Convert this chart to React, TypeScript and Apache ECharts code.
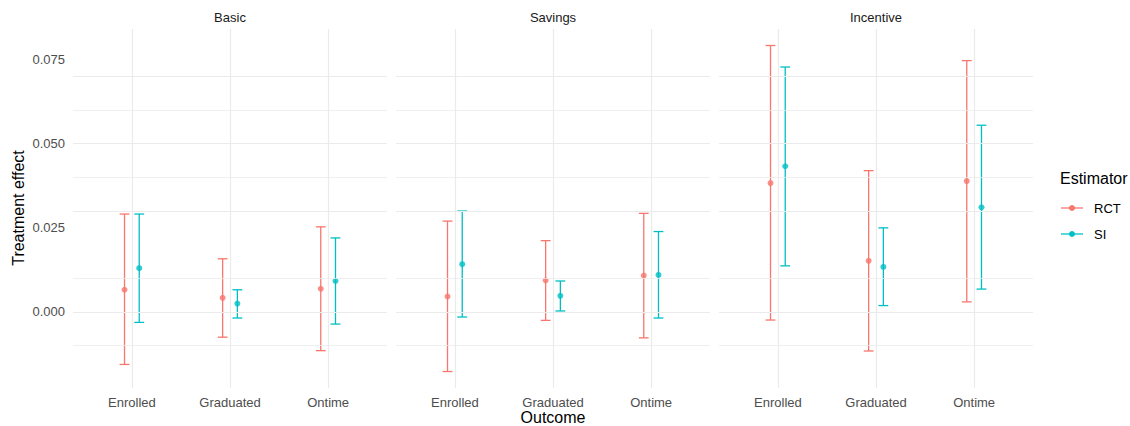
import React, { useEffect, useRef } from "react";
import * as echarts from "echarts";

// Facets, outcomes and estimates (treatment effect with 95% interval)
const panels = ["Basic", "Savings", "Incentive"];
const outcomes = ["Enrolled", "Graduated", "Ontime"];
const estimators = ["RCT", "SI"];

const rctEstimate = [
  [0.0066, 0.0042, 0.0069],
  [0.0046, 0.0094, 0.0108],
  [0.0383, 0.0152, 0.0389],
];
const rctLower = [
  [-0.0156, -0.0075, -0.0115],
  [-0.0177, -0.0025, -0.0077],
  [-0.0024, -0.0116, 0.003],
];
const rctUpper = [
  [0.0291, 0.0158, 0.0253],
  [0.027, 0.0212, 0.0293],
  [0.0792, 0.042, 0.0747],
];
const siEstimate = [
  [0.013, 0.0025, 0.0092],
  [0.0142, 0.0048, 0.011],
  [0.0433, 0.0134, 0.0311],
];
const siLower = [
  [-0.0031, -0.0018, -0.0036],
  [-0.0015, 0.0003, -0.0018],
  [0.0137, 0.0019, 0.0068],
];
const siUpper = [
  [0.0291, 0.0066, 0.022],
  [0.03, 0.0092, 0.0239],
  [0.0728, 0.025, 0.0555],
];

const yTicks = [0, 0.025, 0.05, 0.075];
const yMinorTicks = [-0.0125, 0.0125, 0.0375, 0.0625];

const COLORS = ["#F8766D", "#00BFC4"];
const FONT = "'Liberation Sans', Arial, sans-serif";
const GRID_COLOR = "#EBEBEB";
const DODGE = 0.075;
const CAP = 0.05;

const gridLeft = [73, 396, 719];
const gridWidth = 314;
const gridTop = 29;
const gridHeight = 359;
const Y_MIN = -0.0226;
const Y_MAX = 0.0841;

export default function App() {
  const ref = useRef<HTMLDivElement>(null);

  useEffect(() => {
    document.body.style.margin = "0";
    if (!ref.current) return;
    const chart = echarts.init(ref.current, null, { renderer: "svg" });

    const grids = panels.map((_, i) => ({
      left: gridLeft[i],
      top: gridTop,
      width: gridWidth,
      height: gridHeight,
      containLabel: false,
    }));

    const xAxes = panels.map((_, i) => ({
      type: "value",
      gridIndex: i,
      min: 0.4,
      max: 3.6,
      axisLine: { show: false },
      axisTick: { show: false, customValues: [1, 2, 3] },
      splitLine: { show: false },
      axisLabel: {
        customValues: [1, 2, 3],
        formatter: (v: number) => outcomes[Math.round(v) - 1] ?? "",
        color: "#4D4D4D",
        fontSize: 13,
        fontFamily: FONT,
        margin: 8,
      },
    }));

    const yAxes = panels.map((_, i) => ({
      type: "value",
      gridIndex: i,
      min: Y_MIN,
      max: Y_MAX,
      axisLine: { show: false },
      axisTick: { show: false, customValues: yTicks },
      splitLine: { show: false },
      axisLabel: {
        show: i === 0,
        customValues: yTicks,
        formatter: (v: number) => v.toFixed(3),
        color: "#4D4D4D",
        fontSize: 13,
        fontFamily: FONT,
        margin: 8,
      },
    }));

    const series: any[] = [];
    panels.forEach((_, p) => {
      // panel grid lines
      series.push({
        type: "line",
        xAxisIndex: p,
        yAxisIndex: p,
        data: [],
        z: 1,
        silent: true,
        markLine: {
          silent: true,
          symbol: ["none", "none"],
          label: { show: false },
          animation: false,
          data: [
            ...yMinorTicks.map((v) => ({ yAxis: v, lineStyle: { color: GRID_COLOR, width: 0.8, type: "solid" } })),
            ...yTicks.map((v) => ({ yAxis: v, lineStyle: { color: GRID_COLOR, width: 1.2, type: "solid" } })),
            ...outcomes.map((_, k) => ({ xAxis: k + 1, lineStyle: { color: GRID_COLOR, width: 1.2, type: "solid" } })),
          ],
        },
      });

      estimators.forEach((name, e) => {
        const est = e === 0 ? rctEstimate[p] : siEstimate[p];
        const lo = e === 0 ? rctLower[p] : siLower[p];
        const hi = e === 0 ? rctUpper[p] : siUpper[p];
        const off = e === 0 ? -DODGE : DODGE;
        const color = COLORS[e];

        series.push({
          name,
          type: "custom",
          xAxisIndex: p,
          yAxisIndex: p,
          z: 2,
          silent: true,
          data: outcomes.map((_, k) => [k + 1 + off, lo[k], hi[k]]),
          renderItem: (params: any, api: any) => {
            const x = api.value(0);
            const l = api.value(1);
            const h = api.value(2);
            const top = api.coord([x, h]);
            const bot = api.coord([x, l]);
            const capL = api.coord([x - CAP, h]);
            const capR = api.coord([x + CAP, h]);
            const capL2 = api.coord([x - CAP, l]);
            const capR2 = api.coord([x + CAP, l]);
            const style = { stroke: color, lineWidth: 1.3, fill: "none" };
            return {
              type: "group",
              children: [
                { type: "line", shape: { x1: top[0], y1: top[1], x2: bot[0], y2: bot[1] }, style },
                { type: "line", shape: { x1: capL[0], y1: capL[1], x2: capR[0], y2: capR[1] }, style },
                { type: "line", shape: { x1: capL2[0], y1: capL2[1], x2: capR2[0], y2: capR2[1] }, style },
              ],
            };
          },
        });

        series.push({
          name,
          type: "scatter",
          xAxisIndex: p,
          yAxisIndex: p,
          z: 3,
          symbol: "circle",
          symbolSize: 6,
          itemStyle: { color },
          silent: true,
          data: outcomes.map((_, k) => [k + 1 + off, est[k]]),
        });
      });
    });

    const graphic: any[] = [];
    panels.forEach((name, i) => {
      graphic.push({
        type: "text",
        x: gridLeft[i] + gridWidth / 2,
        y: 17,
        style: {
          text: name,
          fill: "#1A1A1A",
          font: `13px ${FONT}`,
          align: "center",
          verticalAlign: "middle",
        },
      });
    });
    graphic.push({
      type: "text",
      x: 553,
      y: 417,
      style: { text: "Outcome", fill: "#000", font: `16px ${FONT}`, align: "center", verticalAlign: "middle" },
    });
    graphic.push({
      type: "text",
      x: 18,
      y: 208,
      rotation: Math.PI / 2,
      style: { text: "Treatment effect", fill: "#000", font: `16px ${FONT}`, align: "center", verticalAlign: "middle" },
    });
    // legend
    graphic.push({
      type: "text",
      x: 1060,
      y: 178,
      style: { text: "Estimator", fill: "#000", font: `16px ${FONT}`, align: "left", verticalAlign: "middle" },
    });
    estimators.forEach((name, e) => {
      const y = 208 + e * 26;
      graphic.push({ type: "line", shape: { x1: 1061, y1: y, x2: 1083, y2: y }, style: { stroke: COLORS[e], lineWidth: 1.3 } });
      graphic.push({ type: "circle", shape: { cx: 1072, cy: y, r: 3 }, style: { fill: COLORS[e] } });
      graphic.push({
        type: "text",
        x: 1094,
        y,
        style: { text: name, fill: "#000", font: `13px ${FONT}`, align: "left", verticalAlign: "middle" },
      });
    });

    chart.setOption({
      animation: false,
      backgroundColor: "#FFFFFF",
      textStyle: { fontFamily: FONT },
      grid: grids,
      xAxis: xAxes,
      yAxis: yAxes,
      series,
      graphic,
    });

    return () => chart.dispose();
  }, []);

  return <div ref={ref} style={{ width: 1130, height: 426 }} />;
}
